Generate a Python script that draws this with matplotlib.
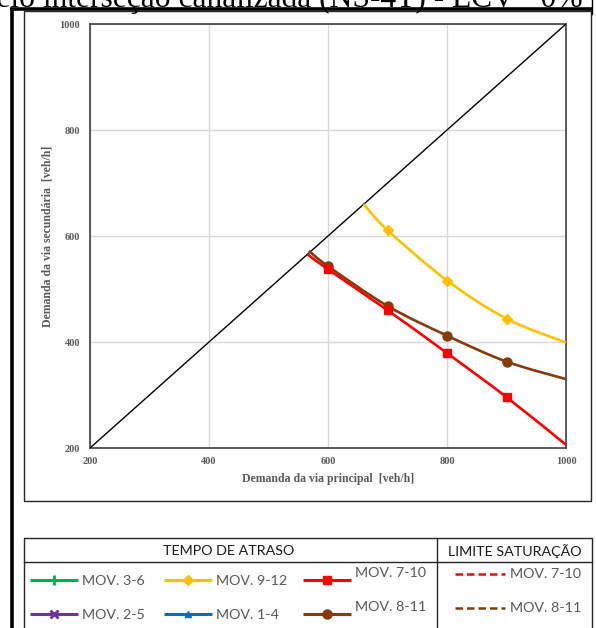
import numpy as np
import matplotlib
matplotlib.use("Agg")
import matplotlib.pyplot as plt
from matplotlib.path import Path
from matplotlib.patches import PathPatch, Rectangle

# Main-road demand (veh/h) against secondary-road demand (veh/h) per movement
mov912_x = [660, 700, 800, 900, 1000]
mov912_y = [660, 611, 516, 444, 399]
mov811_x = [568, 600, 700, 800, 900, 1000]
mov811_y = [572, 543, 468, 412, 363, 330]
mov710_x = [565, 600, 700, 800, 900, 1000]
mov710_y = [566, 537, 460, 379, 296, 206]

diag = [200, 1000]
ticks = [200, 400, 600, 800, 1000]

title = "Modelo interseção canalizada (NS-4T) - ECV= 0%"
xlabel = "Demanda da via principal  [veh/h]"
ylabel = "Demanda da via secundária  [veh/h]"

legend_head = ["TEMPO DE ATRASO", "LIMITE SATURAÇÃO"]
legend_delay = [
    ("MOV. 3-6", "#00B050", "+"), ("MOV. 9-12", "#FFC000", "D"), ("MOV. 7-10", "#FF0000", "s"),
    ("MOV. 2-5", "#7030A0", "x"), ("MOV. 1-4", "#0070C0", "^"), ("MOV. 8-11", "#843C0C", "o"),
]
legend_sat = [("MOV. 7-10", "#FF0000"), ("MOV. 8-11", "#843C0C")]

GRAY = "#595959"
W, H = 596, 628


def smooth_path(xs, ys):
    """Catmull-Rom style cubic Bezier through the given points."""
    p = np.column_stack([xs, ys]).astype(float)
    ext = np.vstack([p[0], p, p[-1]])
    verts = [p[0]]
    codes = [Path.MOVETO]
    for i in range(len(p) - 1):
        p0, p1, p2, p3 = ext[i], ext[i + 1], ext[i + 2], ext[i + 3]
        verts += [p1 + (p2 - p0) / 6.0, p2 - (p3 - p1) / 6.0, p2]
        codes += [Path.CURVE4] * 3
    return Path(verts, codes)


fig = plt.figure(figsize=(W / 100, H / 100), dpi=100)
fig.patch.set_facecolor("white")

# page layer in pixel coordinates
bg = fig.add_axes([0, 0, 1, 1])
bg.set_xlim(0, W)
bg.set_ylim(H, 0)
bg.axis("off")

bg.text(583, 7, title, ha="right", va="baseline", fontsize=22.7,
        family="Liberation Serif", color="black")
bg.plot([10, 592], [9, 9], color="black", lw=2.6, solid_capstyle="butt")
bg.plot([12, 12], [9, H], color="black", lw=2.6, solid_capstyle="butt")
bg.plot([592, 592], [0, 14], color="black", lw=1.0)

# chart frame
bg.add_patch(Rectangle((24, 11), 567, 490, fill=False, ec="#262626", lw=1.0))

# legend table
bg.plot([24, 24, 592, 592], [H, 538, 538, H], color="#262626", lw=1.0)
bg.plot([24, 592], [562, 562], color="#262626", lw=1.0)
bg.plot([437, 437], [538, H], color="#262626", lw=1.0)
lfont = dict(family="Lato", color=GRAY, fontsize=10.3)
bg.text(229, 551, legend_head[0], ha="center", va="center", **{**lfont, "color": "#1a1a1a"})
bg.text(515, 551, legend_head[1], ha="center", va="center", **{**lfont, "color": "#1a1a1a"})

col_x = [30, 164, 303]
row_y = [580, 614]
for k, (lab, col, mk) in enumerate(legend_delay):
    r, c = divmod(k, 3)
    x0 = col_x[c]
    y0 = row_y[r]
    bg.plot([x0, x0 + 48], [y0, y0], color=col, lw=2.2, solid_capstyle="butt")
    ms = {"+": 7, "x": 6, "D": 5, "^": 5, "s": 5.5, "o": 6.5}[mk]
    bg.plot([x0 + 24], [y0], marker=mk, color=col, ms=ms, mew=2 if mk in "+x" else 1)
    dy = -7 if c == 2 else 1
    bg.text(x0 + 52, y0 + dy, lab, ha="left", va="center", **lfont)

for r, (lab, col) in enumerate(legend_sat):
    y0 = row_y[r] - 6
    bg.plot([455, 505], [y0, y0], color=col, lw=1.8, ls=(0, (3, 1.6)))
    bg.text(510, y0, lab, ha="left", va="center", **lfont)

# plot area
x0p, x1p, y0p, y1p = 90, 566, 24, 448
ax = fig.add_axes([x0p / W, (H - y1p) / H, (x1p - x0p) / W, (y1p - y0p) / H])
ax.set_zorder(3)
ax.set_xlim(200, 1000)
ax.set_ylim(200, 1000)
ax.set_xticks(ticks)
ax.set_yticks(ticks)
ax.grid(True, color="#d9d9d9", lw=1.0)
ax.set_axisbelow(True)
for s in ax.spines.values():
    s.set_color("#404040")
    s.set_linewidth(1.2)
ax.tick_params(length=0, labelsize=7.5, labelcolor=GRAY)
ax.tick_params(axis="y", pad=7)
ax.tick_params(axis="x", pad=6.5)
for t in ax.get_xticklabels() + ax.get_yticklabels():
    t.set_family("Liberation Serif")
    t.set_fontweight("bold")

ax.plot(diag, diag, color="black", lw=1.0, zorder=3)

series = [
    (mov912_x, mov912_y, "#FFC000", "D", 5),
    (mov811_x, mov811_y, "#843C0C", "o", 6.5),
    (mov710_x, mov710_y, "#FF0000", "s", 5.5),
]
for xs, ys, col, mk, ms in series:
    ax.add_patch(PathPatch(smooth_path(xs, ys), fill=False, ec=col, lw=1.9, zorder=4,
                           clip_on=True))
    inner = [i for i, x in enumerate(xs) if 600 <= x <= 900 and i > 0]
    ax.plot([xs[i] for i in inner], [ys[i] for i in inner], ls="none", marker=mk,
            color=col, ms=ms, zorder=5)

bg.text((x0p + x1p) / 2, 479, xlabel, ha="center", va="center", fontsize=8.5,
        family="Liberation Serif", fontweight="bold", color=GRAY)
bg.text(48, (y0p + y1p) / 2, ylabel, ha="center", va="center", rotation=90,
        fontsize=8.5, family="Liberation Serif", fontweight="bold", color=GRAY)

fig.savefig("out.png", dpi=100)
